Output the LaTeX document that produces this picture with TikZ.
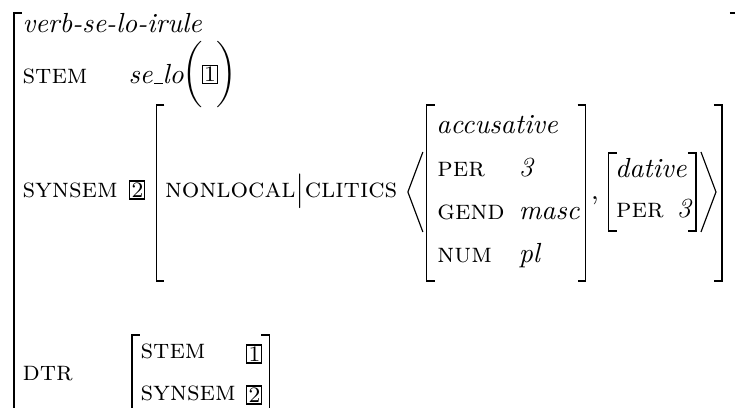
\documentclass[tikz,border=0pt]{standalone}
\usepackage{amsmath,amssymb}
\usepackage{tikz}
\usetikzlibrary{positioning,calc,fit}
\newcommand{\lowbar}{\kern.06em\vbox{\hrule width.3em}}
\tikzset{avmlbl/.style={anchor=mid west,inner sep=0pt,font=\scshape},
 avmval/.style={anchor=mid west,inner sep=0pt,font=\itshape},
 avmtag/.style={draw,inner sep=0.6pt,line width=0.4pt,font=\footnotesize},
 avmbrk/.style={line width=0.42pt}}

\begin{document}
\begin{tikzpicture}[x=0.362pt,y=-0.362pt]
\useasboundingbox (0,0) rectangle (735,408);
\clip (0,0) rectangle (735,408);
\coordinate (mtop) at (0,105);
\coordinate (mbot) at (0,281);
\coordinate (dtop) at (0,153);
\coordinate (dbot) at (0,231);
% outer matrix
\draw[avmbrk] (22,13) -| (14,440);
\node[avmval] (typ) at (22,27) {verb-se-lo-irule};
\node[avmlbl] (stem) at (22,78) {stem};
\node[avmval] (stemval) at (128,78) {se\lowbar lo};
\node[inner sep=0pt,right=-0.8pt of stemval] (lpar) {$\bigg($};
\node[avmtag,right=-0.6pt of lpar] (tagone) {1};
\node[inner sep=0pt,right=-0.6pt of tagone] (rpar) {$\bigg)$};
\node[avmlbl] (synsem) at (22,192) {synsem};
\node[avmtag,anchor=west] (tagtwo) at ($(synsem.east |- 0,190)+(11,0)$) {2};
% synsem value
\coordinate (synl) at ($(tagtwo.east |- 0,192)+(11,0)$);
\draw[avmbrk] ($(synl |- mtop)+(8,0)$) -| (synl |- mbot) -- ++(8,0);
\node[avmlbl] (clitics) at ($(synl)+(8,0)$) {nonlocal$\big|$clitics};
\coordinate (angl) at ($(clitics.east |- 0,192)+(10,0)$);
\draw[avmbrk] ($(angl)+(15,-40)$) -- (angl) -- ($(angl)+(15,40)$);
% accusative clitic
\coordinate (accl) at ($(angl)+(19,0)$);
\draw[avmbrk] ($(accl |- mtop)+(8,0)$) -| (accl |- mbot) -- ++(8,0);
\node[avmval] (acc) at ($(accl |- 0,128)+(9,0)$) {accusative};
\node[avmlbl] (per) at ($(accl |- 0,171)+(10,0)$) {per};
\node[avmlbl] (gend) at ($(accl |- 0,214)+(10,0)$) {gend};
\node[avmlbl] (num) at ($(accl |- 0,257)+(10,0)$) {num};
\coordinate (accv) at ($(gend.east)+(13,0)$);
\node[avmval] (perval) at (accv |- 0,171) {3};
\node[avmval] (gendval) at (accv |- 0,214) {masc};
\node[avmval] (numval) at (accv |- 0,257) {pl};
\node[fit=(acc)(gendval),inner sep=0pt] (accfit) {};
\coordinate (accr) at ($(accfit.east)+(5,0)$);
\draw[avmbrk] ($(accr |- mtop)+(-8,0)$) -| (accr |- mbot) -- ++(-8,0);
\node[anchor=mid west,inner sep=0pt] (comma) at ($(accr |- 0,194)+(5,0)$) {,};
% dative clitic
\coordinate (datl) at ($(accr)+(23,0)$);
\draw[avmbrk] ($(datl |- dtop)+(8,0)$) -| (datl |- dbot) -- ++(8,0);
\node[avmval] (dat) at ($(datl |- 0,172)+(6,0)$) {dative};
\node[avmlbl] (datper) at ($(datl |- 0,212)+(7,0)$) {per};
\node[avmval] (datperval) at ($(datper.east |- 0,212)+(12,0)$) {3};
\node[fit=(dat)(datperval),inner sep=0pt] (datfit) {};
\coordinate (datr) at ($(datfit.east)+(4,0)$);
\draw[avmbrk] ($(datr |- dtop)+(-8,0)$) -| (datr |- dbot) -- ++(-8,0);
\coordinate (angr) at ($(datr |- 0,192)+(20,0)$);
\draw[avmbrk] ($(angr)+(-15,-40)$) -- (angr) -- ($(angr)+(-15,40)$);
\coordinate (synr) at ($(angr)+(6,0)$);
\draw[avmbrk] ($(synr |- mtop)+(-8,0)$) -| (synr |- mbot) -- ++(-8,0);
\coordinate (outr) at ($(synr)+(16,0)$);
\draw[avmbrk] ($(outr |- 0,13)+(-8,0)$) -| (outr |- 0,440);
% daughter
\node[avmlbl] (dtr) at (22,375) {dtr};
\node[avmlbl] (dstem) at (140,353) {stem};
\node[avmlbl] (dsynsem) at (140,395) {synsem};
\coordinate (dtagx) at ($(dsynsem.east)+(10,0)$);
\node[avmtag,anchor=west] (dtagone) at (dtagx |- 0,354) {1};
\node[avmtag,anchor=west] (dtagtwo) at (dtagx |- 0,395) {2};
\coordinate (dtrr) at ($(dtagtwo.east)+(7,0)$);
\draw[avmbrk] (140,335) -| (132,440);
\draw[avmbrk] ($(dtrr |- 0,335)+(-8,0)$) -| (dtrr |- 0,440);
\end{tikzpicture}
\end{document}
